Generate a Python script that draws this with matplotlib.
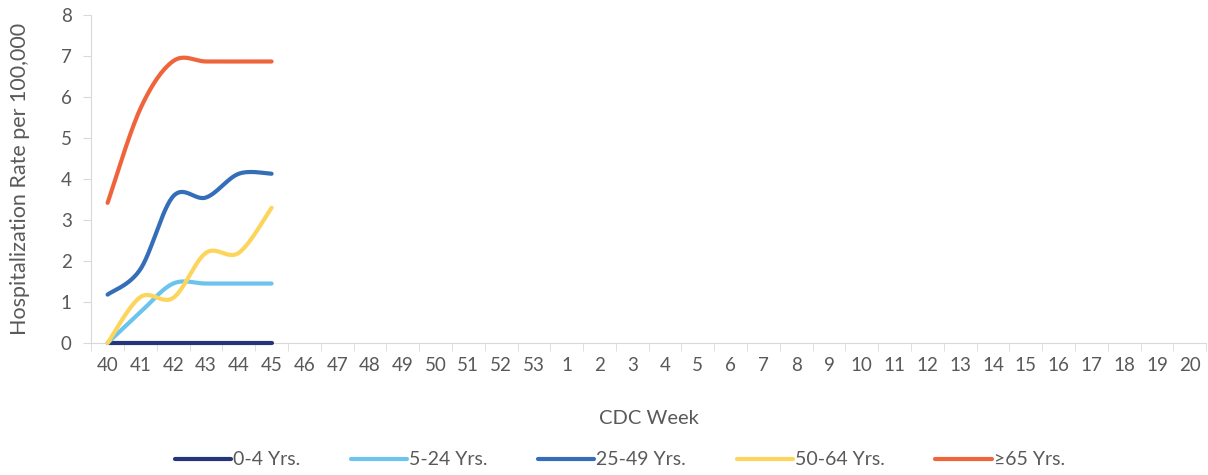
import numpy as np
import matplotlib.pyplot as plt

plt.rcParams['font.family'] = ['Lato', 'DejaVu Sans']

# Semanas CDC (eje x)
weeks = [str(w) for w in range(40, 54)] + [str(w) for w in range(1, 21)]

# Tasas por grupo de edad (solo semanas 40-45 con datos)
age_0_4 = [0, 0, 0, 0, 0, 0]
age_5_24 = [0, 0.75, 1.45, 1.45, 1.45, 1.45]
age_25_49 = [1.18, 1.80, 3.58, 3.55, 4.13, 4.13]
age_50_64 = [0, 1.12, 1.10, 2.20, 2.20, 3.30]
age_65 = [3.42, 5.72, 6.88, 6.87, 6.87, 6.87]

series = [
    ('0-4 Yrs.', age_0_4, '#26347a'),
    ('5-24 Yrs.', age_5_24, '#6cc4ee'),
    ('25-49 Yrs.', age_25_49, '#346eb8'),
    ('50-64 Yrs.', age_50_64, '#fdd55c'),
    ('\u226565 Yrs.', age_65, '#f0643c'),
]


def smooth(x, y, n=30):
    # suavizado tipo Excel (Bezier con puntos de control Catmull-Rom)
    x = np.asarray(x, float)
    y = np.asarray(y, float)
    xs, ys = [], []
    for i in range(len(x) - 1):
        p0 = (x[max(i - 1, 0)], y[max(i - 1, 0)])
        p1 = (x[i], y[i])
        p2 = (x[i + 1], y[i + 1])
        p3 = (x[min(i + 2, len(x) - 1)], y[min(i + 2, len(x) - 1)])
        c1 = (p1[0] + (p2[0] - p0[0]) / 6, p1[1] + (p2[1] - p0[1]) / 6)
        c2 = (p2[0] - (p3[0] - p1[0]) / 6, p2[1] - (p3[1] - p1[1]) / 6)
        t = np.linspace(0, 1, n)
        bx = (1 - t) ** 3 * p1[0] + 3 * (1 - t) ** 2 * t * c1[0] + 3 * (1 - t) * t ** 2 * c2[0] + t ** 3 * p2[0]
        by = (1 - t) ** 3 * p1[1] + 3 * (1 - t) ** 2 * t * c1[1] + 3 * (1 - t) * t ** 2 * c2[1] + t ** 3 * p2[1]
        xs.extend(bx)
        ys.extend(by)
    return xs, ys


fig = plt.figure(figsize=(12.08, 4.75), dpi=100)
ax = fig.add_axes([0.0755, 0.278, 0.923, 0.69])

for label, vals, color in series:
    sx, sy = smooth(range(len(vals)), vals)
    ax.plot(sx, sy, color=color, lw=3, solid_capstyle='round', label=label,
            clip_on=False, zorder=3)

grey = '#595959'
ax.set_xlim(-0.5, len(weeks) - 0.5)
ax.set_ylim(0, 8)
ax.set_xticks(range(len(weeks)))
ax.set_xticklabels(weeks)
ax.set_xticks(np.arange(-0.5, len(weeks), 1), minor=True)
ax.tick_params(axis='x', which='major', length=0, pad=10, labelsize=13.5, labelcolor=grey)
ax.tick_params(axis='x', which='minor', length=6, color='#d9d9d9')
ax.tick_params(axis='y', length=6, color='#d9d9d9', labelsize=13.5, labelcolor=grey, pad=8)

for s in ['top', 'right']:
    ax.spines[s].set_visible(False)
for s in ['left', 'bottom']:
    ax.spines[s].set_color('#d9d9d9')

ax.set_xlabel('CDC Week', fontsize=14.5, color=grey, labelpad=26)
ax.set_ylabel('Hospitalization Rate per 100,000', fontsize=15.5, color=grey, labelpad=22)

ax.legend(loc='center', bbox_to_anchor=(0.474, -0.357), ncol=5, frameon=False,
          fontsize=14, labelcolor=grey, handlelength=2.9, handletextpad=0.1,
          columnspacing=2.6, borderpad=0)

fig.savefig('out.png', dpi=100)
